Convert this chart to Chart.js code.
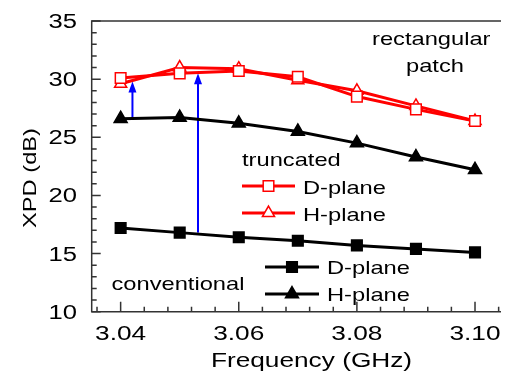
<!DOCTYPE html>
<html>
<head>
<meta charset="utf-8">
<script src="https://cdn.jsdelivr.net/npm/chart.js@4.4.1/dist/chart.umd.min.js"></script>
<style>
  body { margin: 0; background: #fff; }
  canvas { display: block; }
</style>
</head>
<body>
<canvas id="chartXpd" width="510" height="378"></canvas>
<script>
// values
const freq = [3.04, 3.05, 3.06, 3.07, 3.08, 3.09, 3.10];
const truncD = [30.1, 30.5, 30.7, 30.2, 28.5, 27.4, 26.4];
const truncH = [29.6, 31.0, 30.9, 29.9, 29.0, 27.7, 26.4];
const convD = [17.2, 16.8, 16.4, 16.1, 15.7, 15.4, 15.1];
const convH = [26.6, 26.7, 26.2, 25.5, 24.5, 23.3, 22.2];

const xTicks = [3.04, 3.06, 3.08, 3.10];
const yTicks = [10, 15, 20, 25, 30, 35];

// blue arrows (frequency, from dB, to dB)
const arrowX = [3.042, 3.0531];
const arrowFrom = [26.6, 16.8];
const arrowTo = [29.8, 30.5];

const FONT = '"Liberation Sans", Arial, sans-serif';
const SX = 1.28; // the original text is stretched sideways

function txt(ctx, s, x, y, size, align) {
  ctx.save();
  ctx.translate(x, y);
  ctx.scale(SX, 1);
  ctx.font = size + 'px ' + FONT;
  ctx.textAlign = align || 'left';
  ctx.textBaseline = 'alphabetic';
  ctx.fillStyle = '#000';
  ctx.fillText(s, 0, 0);
  ctx.restore();
}

function legendSample(ctx, x1, x2, y, color, style, fill, r) {
  ctx.save();
  ctx.strokeStyle = color;
  ctx.lineWidth = 3;
  ctx.beginPath();
  ctx.moveTo(x1, y);
  ctx.lineTo(x2, y);
  ctx.stroke();
  ctx.fillStyle = fill;
  ctx.lineWidth = 1.5;
  Chart.helpers.drawPoint(ctx, { pointStyle: style, radius: r, rotation: 0, borderWidth: 1.5 }, (x1 + x2) / 2, y);
  ctx.restore();
}

function ds(values, color, style, fill, r) {
  return {
    data: freq.map((f, i) => ({ x: f, y: values[i] })),
    borderColor: color,
    borderWidth: 3,
    pointStyle: style,
    pointRadius: r,
    pointBackgroundColor: fill,
    pointBorderColor: color,
    pointBorderWidth: 1.5,
    tension: 0
  };
}

const decor = {
  id: 'decor',
  beforeDatasetsDraw(chart) {
    const ctx = chart.ctx, x = chart.scales.x, y = chart.scales.y;
    ctx.save();
    ctx.strokeStyle = '#0000ff';
    ctx.fillStyle = '#0000ff';
    ctx.lineWidth = 2;
    arrowX.forEach((f, i) => {
      const px = x.getPixelForValue(f);
      const y0 = y.getPixelForValue(arrowFrom[i]);
      const y1 = y.getPixelForValue(arrowTo[i]);
      ctx.beginPath();
      ctx.moveTo(px, y0);
      ctx.lineTo(px, y1 + 8);
      ctx.stroke();
      ctx.beginPath();
      ctx.moveTo(px, y1);
      ctx.lineTo(px - 4, y1 + 11);
      ctx.lineTo(px + 4, y1 + 11);
      ctx.closePath();
      ctx.fill();
    });
    ctx.restore();
  },
  afterDraw(chart) {
    const ctx = chart.ctx, a = chart.chartArea;
    const x = chart.scales.x, y = chart.scales.y;
    ctx.save();
    // frame
    ctx.strokeStyle = '#333';
    ctx.lineWidth = 1.5;
    ctx.beginPath();
    ctx.moveTo(a.right, a.top);
    ctx.lineTo(a.left, a.top);
    ctx.lineTo(a.left, a.bottom);
    ctx.lineTo(a.right, a.bottom);
    ctx.stroke();

    // inward ticks
    ctx.beginPath();
    for (let v = 10; v <= 35; v++) {
      const py = y.getPixelForValue(v);
      ctx.moveTo(a.left, py);
      ctx.lineTo(a.left + (v % 5 === 0 ? 9 : 5), py);
    }
    for (let k = 0; k <= 17; k++) {
      const f = 3.036 + k * 0.004;
      const px = x.getPixelForValue(f);
      const major = (k - 1) % 5 === 0;
      ctx.moveTo(px, a.bottom);
      ctx.lineTo(px, a.bottom - (major ? 10 : 5));
    }
    ctx.stroke();
    ctx.restore();

    // tick labels
    yTicks.forEach(v => txt(ctx, String(v), 77, y.getPixelForValue(v) + 7, 20, 'right'));
    xTicks.forEach(v => txt(ctx, v.toFixed(2), x.getPixelForValue(v), 339.5, 20.5, 'center'));

    // axis titles
    txt(ctx, 'Frequency (GHz)', 311.5, 366.5, 20.5, 'center');
    ctx.save();
    ctx.translate(36, 178);
    ctx.rotate(-Math.PI / 2);
    ctx.scale(SX, 1);
    ctx.font = '18.5px ' + FONT;
    ctx.textAlign = 'center';
    ctx.fillStyle = '#000';
    ctx.fillText('XPD (dB)', 0, 0);
    ctx.restore();

    // annotations
    txt(ctx, 'rectangular', 372, 44.5, 18.5);
    txt(ctx, 'patch', 406, 72, 18.5);
    txt(ctx, 'truncated', 242, 166, 18.5);
    txt(ctx, 'conventional', 111.5, 289.5, 18.5);

    // legend
    legendSample(ctx, 242, 295, 186, '#ff0000', 'rect', '#fff', 7.5);
    legendSample(ctx, 242, 295, 213, '#ff0000', 'triangle', '#fff', 7);
    txt(ctx, 'D-plane', 303, 193.5, 18.5);
    txt(ctx, 'H-plane', 303, 221, 18.5);
    legendSample(ctx, 265, 319, 267, '#000', 'rect', '#000', 7.5);
    legendSample(ctx, 265, 319, 294, '#000', 'triangle', '#000', 7.5);
    txt(ctx, 'D-plane', 327, 274, 18.5);
    txt(ctx, 'H-plane', 327, 300.5, 18.5);
  }
};

new Chart(document.getElementById('chartXpd'), {
  type: 'line',
  data: {
    datasets: [
      ds(convD, '#000', 'rect', '#000', 7.5),
      ds(convH, '#000', 'triangle', '#000', 7.5),
      ds(truncD, '#ff0000', 'rect', '#fff', 7.5),
      ds(truncH, '#ff0000', 'triangle', '#fff', 7)
    ]
  },
  options: {
    responsive: false,
    animation: false,
    devicePixelRatio: 1,
    layout: { padding: { top: 21, right: 2, left: 0, bottom: 0 } },
    plugins: { legend: { display: false }, tooltip: { enabled: false } },
    scales: {
      x: {
        type: 'linear',
        min: 3.0351,
        max: 3.1044,
        grid: { display: false },
        border: { display: false },
        ticks: { display: false },
        afterFit: s => { s.height = 66.3; }
      },
      y: {
        min: 10,
        max: 35,
        grid: { display: false },
        border: { display: false },
        ticks: { display: false },
        afterFit: s => { s.width = 91.7; }
      }
    }
  },
  plugins: [decor]
});
</script>
</body>
</html>
